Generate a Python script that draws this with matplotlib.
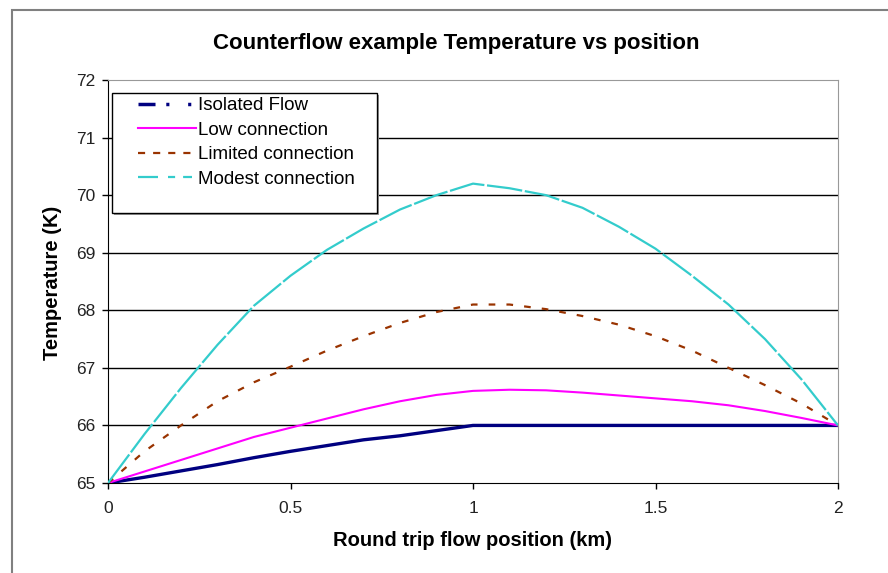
# Counterflow example - temperature vs position

import matplotlib.pyplot as plt
from matplotlib.lines import Line2D
from matplotlib.patches import Rectangle

plt.rcParams['font.family'] = ['Liberation Sans', 'DejaVu Sans']

# data
posicao = [0.0, 0.1, 0.2, 0.3, 0.4, 0.5, 0.6, 0.7, 0.8, 0.9, 1.0,
           1.1, 1.2, 1.3, 1.4, 1.5, 1.6, 1.7, 1.8, 1.9, 2.0]

isolated = [65.0, 65.1, 65.21, 65.32, 65.44, 65.55, 65.65, 65.75, 65.82, 65.91, 66.0,
            66.0, 66.0, 66.0, 66.0, 66.0, 66.0, 66.0, 66.0, 66.0, 66.0]
low = [65.0, 65.2, 65.4, 65.6, 65.8, 65.96, 66.12, 66.28, 66.42, 66.53, 66.6,
       66.62, 66.61, 66.57, 66.52, 66.47, 66.42, 66.35, 66.25, 66.13, 66.0]
limited = [65.0, 65.55, 66.0, 66.42, 66.75, 67.02, 67.3, 67.55, 67.78, 67.97, 68.1,
           68.1, 68.02, 67.9, 67.75, 67.55, 67.3, 67.0, 66.7, 66.38, 66.0]
modest = [65.0, 65.85, 66.65, 67.4, 68.08, 68.6, 69.05, 69.42, 69.75, 70.0, 70.2,
          70.12, 70.0, 69.78, 69.45, 69.07, 68.6, 68.1, 67.5, 66.8, 66.0]

nomes = ['Isolated Flow', 'Low connection', 'Limited connection', 'Modest connection']
cores = ['#000080', '#FF00FF', '#993300', '#33CCCC']

x_ticks = [0, 0.5, 1, 1.5, 2]
x_labels = ['0', '0.5', '1', '1.5', '2']
y_ticks = [65, 66, 67, 68, 69, 70, 71, 72]

W, H = 888, 573
fig = plt.figure(figsize=(W/100, H/100), dpi=100)
ax = fig.add_axes([108/W, 90/H, 730/W, 403/H])

# moldura externa (estilo excel)
fig.add_artist(Rectangle((12/W, -0.05), 1.2, 1 - 10/H + 0.05,
                         transform=fig.transFigure, fill=False,
                         edgecolor='#808080', linewidth=1.5, clip_on=False))

# linhas de grade
for v in y_ticks[1:-1]:
    ax.axhline(v, color='black', linewidth=1, zorder=1)

ax.plot(posicao, isolated, color=cores[0], linewidth=2.4, zorder=3)
ax.plot(posicao, low, color=cores[1], linewidth=1.5, zorder=3)
ax.plot(posicao, limited, color=cores[2], linewidth=1.6, dashes=[3, 5], zorder=3)
ax.plot(posicao, modest, color=cores[3], linewidth=1.6, dashes=[16, 1.2], zorder=3)

ax.set_xlim(0, 2)
ax.set_ylim(65, 72)
ax.set_xticks(x_ticks)
ax.set_xticklabels(x_labels)
ax.set_yticks(y_ticks)
ax.tick_params(direction='out', length=4, width=1, labelsize=12.5,
               labelcolor='#222222')
ax.tick_params(axis='x', pad=9)
ax.tick_params(axis='y', pad=5)

for lado in ['top', 'right']:
    ax.spines[lado].set_color('#999999')
for lado in ['left', 'bottom']:
    ax.spines[lado].set_color('black')

# textos
fig.text(456/W, 1 - 43/H, 'Counterflow example Temperature vs position',
         fontsize=16, fontweight='bold', ha='center', va='center')
fig.text(472/W, 1 - 540/H, 'Round trip flow position (km)',
         fontsize=14.5, fontweight='bold', ha='center', va='center')
fig.text(52/W, 1 - 283/H, 'Temperature (K)', rotation=90,
         fontsize=14.5, fontweight='bold', ha='center', va='center')

# caixa da legenda (com sombra cinza embaixo)
ax.add_patch(Rectangle(((114-108)/730, (483-215)/403), 265/730, 120/403,
                       transform=ax.transAxes, facecolor='#999999',
                       edgecolor='none', zorder=4))
ax.add_patch(Rectangle(((112-108)/730, (483-213)/403), 265/730, 120/403,
                       transform=ax.transAxes, facecolor='white',
                       edgecolor='black', linewidth=1, zorder=4))

# legenda com os tracos do original
handles = [Line2D([], [], color=cores[0], linewidth=2.5, dashes=[4.9, 3.1, 0.9, 5.4, 0.9, 30]),
           Line2D([], [], color=cores[1], linewidth=1.5),
           Line2D([], [], color=cores[2], linewidth=1.6, dashes=[3.2, 3.6]),
           Line2D([], [], color=cores[3], linewidth=1.6, dashes=[9, 4.5, 3.2, 3.6, 4, 20])]
leg = ax.legend(handles, nomes, loc='upper left',
                bbox_to_anchor=((138-108)/730, (483-97)/403),
                borderaxespad=0, borderpad=0, frameon=False,
                fontsize=13.5, handlelength=3.1, handletextpad=0.1,
                labelspacing=0.4)
leg.set_zorder(5)

fig.savefig('out.png', dpi=100)
